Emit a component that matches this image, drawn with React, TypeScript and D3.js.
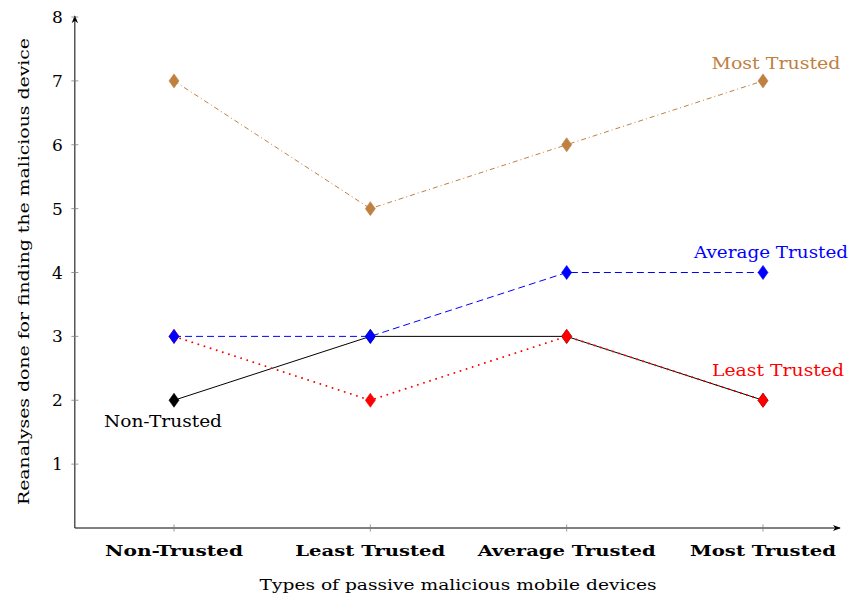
import React from "react";
import * as d3 from "d3";

const categories = ["Non-Trusted", "Least Trusted", "Average Trusted", "Most Trusted"];
const nonTrusted = [2, 3, 3, 2];
const leastTrusted = [3, 2, 3, 2];
const averageTrusted = [3, 3, 4, 4];
const mostTrusted = [7, 5, 6, 7];
const yTicks = [1, 2, 3, 4, 5, 6, 7, 8];

const series = [
  { name: "Non-Trusted", values: nonTrusted, color: "#000000", dash: "", width: 1, label: { i: 0, dx: -11, dy: 21, len: 118 } },
  { name: "Least Trusted", values: leastTrusted, color: "#ff0000", dash: "0.01,6.4", width: 1.9, label: { i: 3, dx: 15, dy: -30, len: 132 } },
  { name: "Average Trusted", values: averageTrusted, color: "#0000ff", dash: "7,4", width: 1, label: { i: 3, dx: 8, dy: -20, len: 154 } },
  { name: "Most Trusted", values: mostTrusted, color: "#bf8040", dash: "5,3,1,3", width: 1, label: { i: 3, dx: 13, dy: -18, len: 129 } },
];

const tickLen: Record<string, number> = {
  "Non-Trusted": 138,
  "Least Trusted": 150,
  "Average Trusted": 178,
  "Most Trusted": 146,
};

const W = 860;
const H = 598;
const FONT = "'DejaVu Serif', 'Liberation Serif', serif";

export default function App() {
  const x = d3.scaleLinear().domain([0, 3]).range([174, 763]);
  const y = d3.scaleLinear().domain([0, 8]).range([528, 17]);
  const line = d3
    .line<number>()
    .x((_, i) => x(i))
    .y((d) => y(d));
  const x0 = x(-0.505);
  const xEnd = 840;
  const diamond = (cx: number, cy: number) =>
    `M${cx},${cy - 7}L${cx + 5},${cy}L${cx},${cy + 7}L${cx - 5},${cy}Z`;

  return (
    <svg
      width={W}
      height={H}
      style={{ position: "absolute", left: 0, top: 0, background: "#fff" }}
      fontFamily={FONT}
    >
      <defs>
        <marker id="arr" viewBox="0 0 10 10" refX="9" refY="5" markerWidth="8" markerHeight="8" orient="auto" markerUnits="userSpaceOnUse">
          <path d="M0,1 L10,5 L0,9 L3,5 Z" fill="#000" />
        </marker>
      </defs>
      <line x1={x0} y1={y(0)} x2={xEnd} y2={y(0)} stroke="#000" strokeWidth={1} markerEnd="url(#arr)" />
      <line x1={x0} y1={y(0)} x2={x0} y2={y(8) - 1} stroke="#000" strokeWidth={1} markerEnd="url(#arr)" />
      {yTicks.map((t) => (
        <g key={t}>
          <line x1={x0 - 3.5} x2={x0 + 3.5} y1={y(t)} y2={y(t)} stroke="#808080" strokeWidth={0.8} />
          <text x={x0 - 12} y={y(t)} dy="0.36em" textAnchor="end" fontSize={17}>
            {t}
          </text>
        </g>
      ))}
      {categories.map((c, i) => (
        <g key={c}>
          <line x1={x(i)} x2={x(i)} y1={y(0) - 3.5} y2={y(0) + 3.5} stroke="#808080" strokeWidth={0.8} />
          <text x={x(i)} y={556} textAnchor="middle" fontSize={15.5} fontWeight="bold" textLength={tickLen[c]} lengthAdjust="spacingAndGlyphs">
            {c}
          </text>
        </g>
      ))}
      <text x={458} y={590} textAnchor="middle" fontSize={15.5} textLength={397} lengthAdjust="spacingAndGlyphs">
        Types of passive malicious mobile devices
      </text>
      <text transform={`translate(29,${271.5}) rotate(-90)`} textAnchor="middle" fontSize={15.5} textLength={467} lengthAdjust="spacingAndGlyphs">
        Reanalyses done for finding the malicious device
      </text>
      {series.map((s) => (
        <g key={s.name}>
          <path
            d={line(s.values) || ""}
            fill="none"
            stroke={s.color}
            strokeWidth={s.width}
            strokeDasharray={s.dash || undefined}
            strokeLinecap={s.name === "Least Trusted" ? "round" : "butt"}
          />
          {s.values.map((v, i) => (
            <path key={i} d={diamond(x(i), y(v))} fill={s.color} stroke={s.color} strokeWidth={0.6} />
          ))}
          <text
            x={x(s.label.i) + s.label.dx}
            y={y(s.values[s.label.i]) + s.label.dy}
            dy="0.36em"
            textAnchor="middle"
            fontSize={16}
            fill={s.color}
            textLength={s.label.len}
            lengthAdjust="spacingAndGlyphs"
          >
            {s.name}
          </text>
        </g>
      ))}
    </svg>
  );
}
